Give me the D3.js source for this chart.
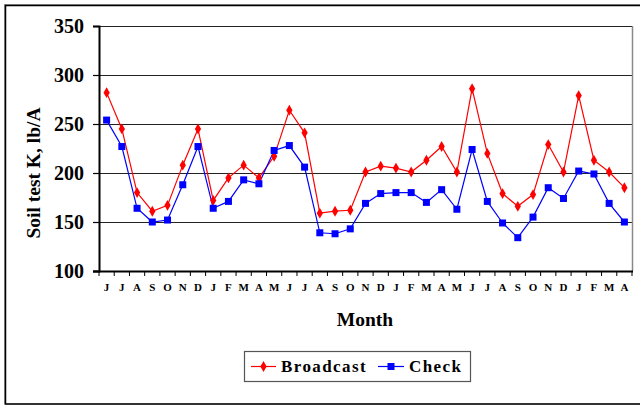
<!DOCTYPE html>
<html><head><meta charset="utf-8">
<script src="https://cdn.jsdelivr.net/npm/d3@7"></script>
<style>body{margin:0;background:#fff}svg{display:block}</style>
</head><body>
<script>
const months = ["J","J","A","S","O","N","D","J","F","M","A","M","J","J","A","S","O","N","D","J","F","M","A","M","J","J","A","S","O","N","D","J","F","M","A"];
const broadcast = [282,245,180,161,167,208,245,172,195,208,195,217,264,241,159,161,162,201,207,205,201,213,227,201,286,220,179,166,178,229,201,279,213,201,185];
const check = [254,227,164,150,152,188,227,164,171,193,189,223,228,206,139,138,143,169,179,180,180,170,183,163,224,171,149,134,155,185,174,202,199,169,150];
const yTicks = [100,150,200,250,300,350];
const seriesNames = ["Broadcast","Check"];
const seriesColors = ["#ff0000","#0000ff"];

const W=640,H=407;
const L=99,R=632,T=26,B=271;
const svg=d3.select("body").append("svg").attr("width",W).attr("height",H);
svg.append("rect").attr("x",4.5).attr("y",4.5).attr("width",W).attr("height",399.5).attr("fill","#fff").attr("stroke","#999").attr("stroke-width",1);
svg.append("rect").attr("x",5.5).attr("y",5.5).attr("width",W).attr("height",398.5).attr("fill","none").attr("stroke","#000").attr("stroke-width",1.5);

const x=d3.scaleBand().domain(d3.range(months.length)).range([L,R]);
const y=d3.scaleLinear().domain([100,350]).range([B,T]);
const font="Liberation Serif";

// gridlines
svg.append("g").selectAll("line").data(yTicks.filter(v=>v>100)).join("line")
  .attr("x1",L).attr("x2",R).attr("y1",d=>Math.round(y(d))+0.5).attr("y2",d=>Math.round(y(d))+0.5)
  .attr("stroke","#222").attr("stroke-width",1.2);
// right border
svg.append("line").attr("x1",R+0.5).attr("x2",R+0.5).attr("y1",T).attr("y2",B).attr("stroke","#888").attr("stroke-width",1.5);

// y axis
const ya=svg.append("g").attr("transform",`translate(${L},0)`)
  .call(d3.axisLeft(y).tickValues(yTicks).tickSize(6).tickPadding(9).tickFormat(d3.format("d")));
ya.select(".domain").attr("stroke","#000").attr("stroke-width",2);
ya.selectAll(".tick line").attr("stroke","#000").attr("stroke-width",1.2);
ya.selectAll(".tick text").attr("font-family",font).attr("font-weight","bold").attr("font-size",20).attr("fill","#000");

// x axis
const xa=svg.append("g").attr("transform",`translate(0,${B})`)
  .call(d3.axisBottom(x).tickSize(0).tickPadding(12).tickFormat(i=>months[i]));
xa.select(".domain").remove();
xa.selectAll(".tick text").attr("font-family",font).attr("font-weight","bold").attr("font-size",11).attr("fill","#000");
const bounds=d3.range(months.length+1).map(i=>L+i*x.step());
svg.append("g").selectAll("line").data(bounds).join("line")
  .attr("x1",d=>d).attr("x2",d=>d).attr("y1",B).attr("y2",B+5).attr("stroke","#000").attr("stroke-width",1);
svg.append("line").attr("x1",L-6).attr("x2",R+1).attr("y1",B+0.5).attr("y2",B+0.5).attr("stroke","#000").attr("stroke-width",2);

// titles
svg.append("text").attr("x",365).attr("y",326).attr("text-anchor","middle").attr("font-family",font)
  .attr("font-weight","bold").attr("font-size",19.5).text("Month");
svg.append("text").attr("transform","translate(40,173) rotate(-90)").attr("text-anchor","middle").attr("font-family",font)
  .attr("font-weight","bold").attr("font-size",19.5).text("Soil test K, lb/A");

// lines
const line=d3.line().x((d,i)=>x(i)+x.bandwidth()/2).y(d=>y(d));
[broadcast,check].forEach((data,k)=>{
  svg.append("path").datum(data).attr("d",line).attr("fill","none").attr("stroke",seriesColors[k]).attr("stroke-width",1.2);
});
const diamond=d3.symbol().type(d3.symbolDiamond).size(34);
svg.append("g").selectAll("path").data(broadcast).join("path")
  .attr("transform",(d,i)=>`translate(${x(i)+x.bandwidth()/2},${y(d)})`).attr("d",diamond).attr("fill","#ff0000");
svg.append("g").selectAll("rect").data(check).join("rect")
  .attr("x",(d,i)=>x(i)+x.bandwidth()/2-3.5).attr("y",d=>y(d)-3.5).attr("width",7).attr("height",7).attr("fill","#0000ff");

// legend
const lg=svg.append("g");
lg.append("rect").attr("x",244.5).attr("y",351.5).attr("width",226).attr("height",30).attr("fill","#fff").attr("stroke","#555").attr("stroke-width",1.2);
lg.append("line").attr("x1",251).attr("x2",276).attr("y1",366.5).attr("y2",366.5).attr("stroke","#ff0000").attr("stroke-width",1.2);
lg.append("path").attr("transform","translate(263.5,366.5)").attr("d",diamond).attr("fill","#ff0000");
lg.append("text").attr("x",281).attr("y",372).attr("font-family",font).attr("font-weight","bold").attr("font-size",17).attr("letter-spacing",1.4).text(seriesNames[0]);
lg.append("line").attr("x1",378).attr("x2",404).attr("y1",366.5).attr("y2",366.5).attr("stroke","#0000ff").attr("stroke-width",1.2);
lg.append("rect").attr("x",387.5).attr("y",363).attr("width",7).attr("height",7).attr("fill","#0000ff");
lg.append("text").attr("x",409).attr("y",372).attr("font-family",font).attr("font-weight","bold").attr("font-size",17).attr("letter-spacing",1.4).text(seriesNames[1]);
</script>
</body></html>
